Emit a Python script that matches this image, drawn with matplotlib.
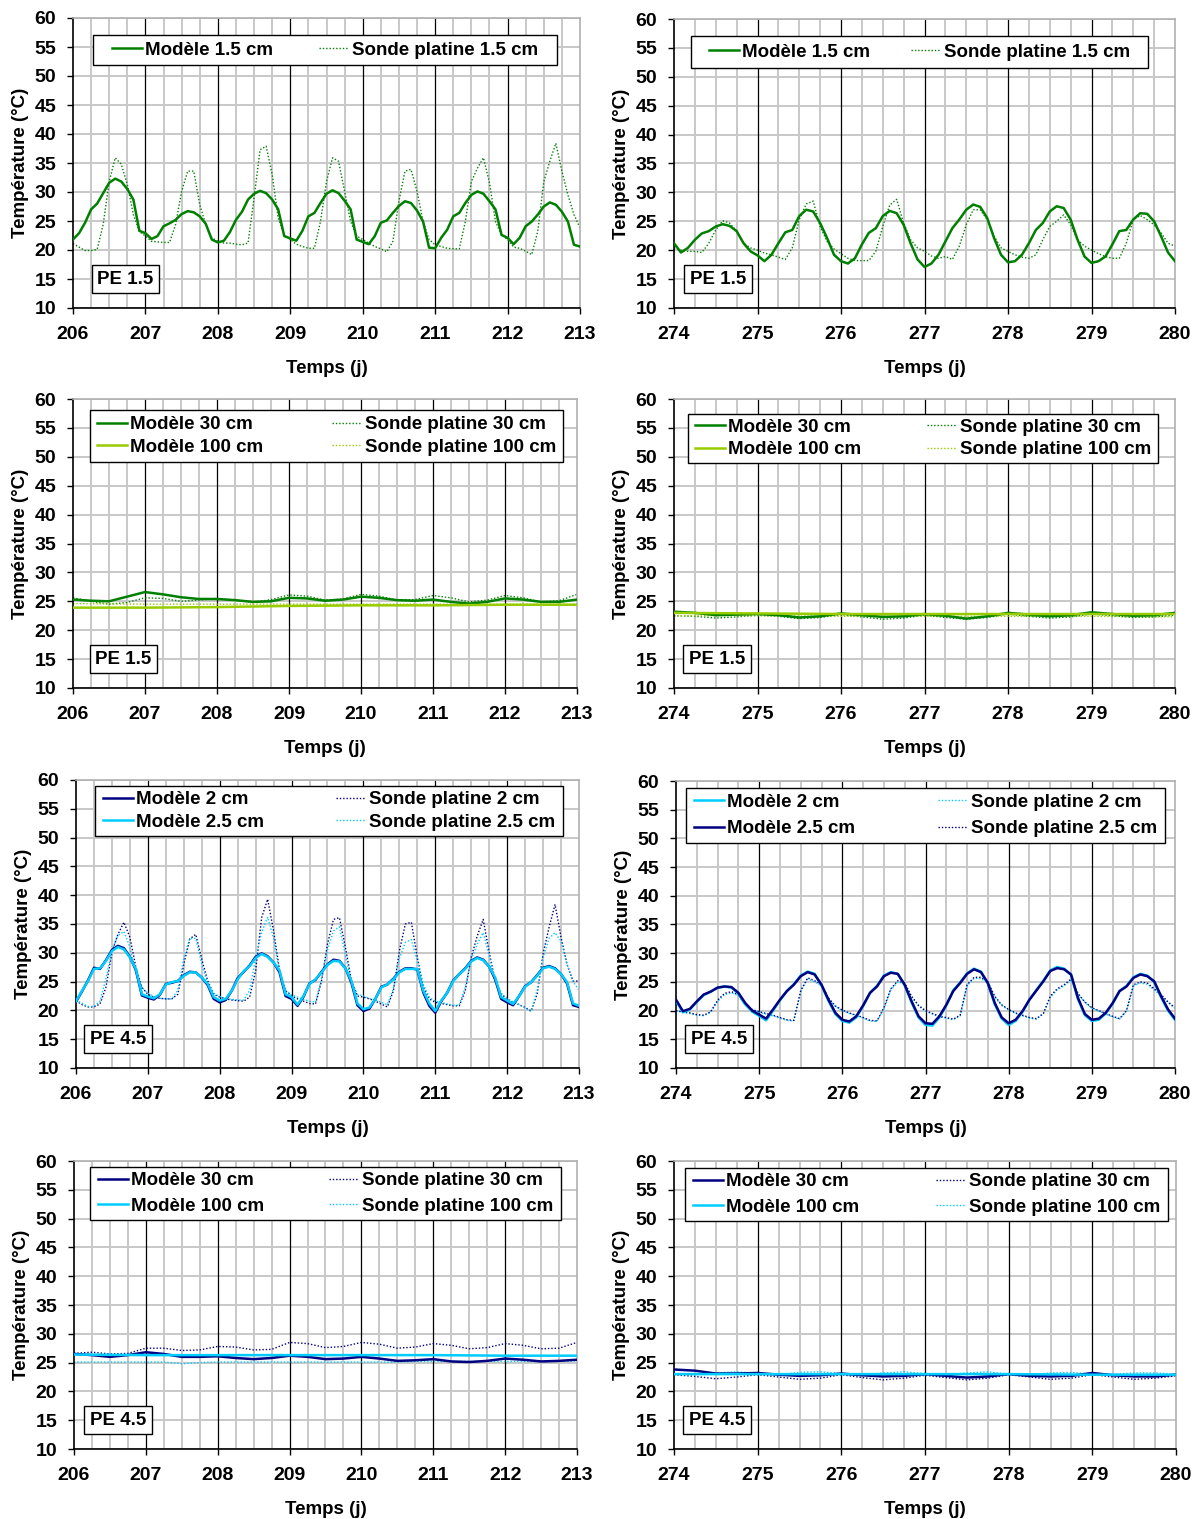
import numpy as np
import matplotlib
matplotlib.use('Agg')
import matplotlib.pyplot as plt
from matplotlib.patches import Rectangle

plt.rcParams['font.family'] = ['Liberation Sans', 'DejaVu Sans']
plt.rcParams['font.weight'] = 'bold'

# ---------------- data ----------------
# time grids (sampling every 2 h for the oscillating series, 6 h / 1 day for the flat ones)
t_206_2h = 206 + np.arange(85) / 12
t_274_2h = 274 + np.arange(73) / 12
t_206_6h = 206 + np.arange(29) / 4
t_274_6h = 274 + np.arange(25) / 4
t_206_1d = np.arange(206, 214)
t_274_1d = np.arange(274, 281)

# PE 1.5, 1.5 cm, days 206-213
mod15_a = [21.8, 22.9, 24.7, 27.0, 28.0, 29.8, 31.6, 32.3, 31.8, 30.5, 28.7, 23.3,
           22.9, 21.9, 22.4, 24.1, 24.6, 25.2, 26.2, 26.7, 26.5, 25.8, 24.5, 21.8,
           21.3, 21.6, 23.1, 25.2, 26.6, 28.7, 29.7, 30.2, 29.8, 28.7, 27.0, 22.4,
           22.0, 21.6, 23.3, 25.8, 26.4, 28.1, 29.7, 30.3, 29.8, 28.5, 27.0, 21.8,
           21.4, 21.0, 22.4, 24.7, 25.1, 26.4, 27.6, 28.4, 28.1, 26.8, 24.9, 20.4,
           20.3, 22.1, 23.5, 25.8, 26.4, 28.1, 29.5, 30.1, 29.7, 28.4, 27.0, 22.6,
           22.1, 21.0, 22.1, 24.1, 24.9, 26.1, 27.5, 28.2, 27.8, 26.6, 24.9, 20.9,
           20.6]
son15_a = [21.1, 20.5, 19.9, 19.9, 20.1, 24.4, 31.8, 35.9, 34.8, 31.3, 26.1, 23.2,
           22.4, 21.5, 21.4, 21.3, 21.3, 24.4, 30.1, 33.6, 33.6, 27.8, 24.4, 22.1,
           21.5, 21.2, 21.2, 21.0, 20.9, 21.2, 29.0, 37.3, 37.9, 33.0, 25.5, 22.6,
           21.8, 21.0, 20.6, 20.3, 20.3, 24.9, 31.8, 35.9, 35.3, 30.1, 24.9, 22.4,
           21.8, 21.2, 20.6, 20.2, 19.7, 21.5, 28.4, 33.6, 33.9, 30.1, 24.9, 21.8,
           20.9, 20.6, 20.3, 20.2, 20.2, 24.9, 31.8, 34.1, 35.9, 31.6, 24.9, 22.6,
           21.8, 20.5, 20.3, 19.8, 19.2, 23.2, 31.8, 35.3, 38.4, 33.6, 29.5, 26.1,
           23.8]

# PE 1.5, 1.5 cm, days 274-280
mod15_b = [21.2, 19.6, 20.4, 21.8, 22.9, 23.3, 24.1, 24.5, 24.2, 23.3, 21.2, 19.8,
           19.1, 18.1, 19.2, 21.2, 23.1, 23.5, 25.9, 27.0, 26.7, 24.7, 22.1, 19.2,
           18.1, 17.7, 18.6, 21.0, 23.0, 23.8, 25.9, 26.8, 26.4, 24.4, 21.2, 18.4,
           17.1, 17.7, 19.2, 21.5, 23.8, 25.3, 27.0, 27.9, 27.5, 25.6, 22.1, 19.2,
           17.9, 18.1, 19.2, 21.2, 23.5, 24.7, 26.7, 27.6, 27.3, 25.3, 21.8, 18.9,
           17.8, 18.1, 18.9, 21.0, 23.3, 23.5, 25.3, 26.4, 26.3, 25.0, 22.4, 19.6,
           18.1]
son15_b = [20.4, 20.0, 19.8, 19.8, 19.6, 21.2, 23.5, 25.1, 24.7, 23.3, 21.2, 20.4,
           20.0, 19.5, 19.2, 18.8, 18.4, 20.4, 25.3, 28.0, 28.5, 24.1, 21.5, 20.2,
           19.4, 18.6, 18.2, 18.2, 18.2, 19.8, 24.1, 27.8, 28.8, 24.7, 21.8, 20.4,
           19.8, 19.0, 18.6, 18.9, 18.4, 20.7, 24.4, 27.0, 27.0, 25.3, 22.4, 20.4,
           19.8, 19.2, 18.8, 18.6, 19.2, 21.8, 24.1, 25.0, 26.1, 24.4, 21.8, 20.7,
           20.0, 19.4, 18.9, 18.6, 18.6, 21.2, 25.3, 26.0, 25.3, 24.4, 23.0, 21.2,
           20.7]

# PE 1.5, 30 cm and 100 cm
mod30_c = [25.3, 25.1, 25.0, 25.8, 26.6, 26.2, 25.7, 25.4, 25.4, 25.2, 24.9, 25.0, 25.6, 25.5,
           25.1, 25.3, 25.8, 25.6, 25.2, 25.1, 25.3, 24.9, 24.6, 24.9, 25.5, 25.3, 24.9, 24.9, 25.3]
son30_c = [25.6, 25.0, 24.5, 24.8, 25.6, 25.5, 25.0, 25.2, 25.5, 25.2, 24.8, 25.3, 26.1, 25.9,
           25.2, 25.4, 26.2, 25.9, 25.2, 25.3, 26.0, 25.6, 24.9, 25.2, 26.0, 25.6, 24.9, 25.1, 26.2]
mod100_c = [23.9, 23.9, 24.0, 24.2, 24.3, 24.3, 24.4, 24.4]
son100_c = [24.6, 24.5, 24.5, 24.5, 24.5, 24.5, 24.5, 24.5]

mod30_d = [23.2, 23.0, 22.6, 22.7, 22.8, 22.6, 22.2, 22.4, 22.9, 22.6, 22.3, 22.4, 22.8,
           22.5, 22.0, 22.4, 23.0, 22.7, 22.4, 22.6, 23.1, 22.8, 22.5, 22.6, 23.0]
son30_d = [22.5, 22.4, 22.1, 22.3, 22.6, 22.4, 22.0, 22.2, 22.7, 22.3, 21.9, 22.1, 22.6,
           22.2, 21.9, 22.2, 22.8, 22.4, 22.1, 22.3, 22.8, 22.5, 22.2, 22.3, 22.6]
mod100_d = [23.0, 22.9, 22.8, 22.8, 22.8, 22.8, 22.8]
son100_d = [22.5, 22.5, 22.4, 22.4, 22.4, 22.4, 22.3]

# PE 4.5, 2 cm and 2.5 cm, days 206-213
mod2_e = [21.5, 23.3, 25.2, 27.4, 27.2, 28.7, 30.5, 31.2, 30.8, 29.3, 27.0, 22.6,
          22.2, 21.9, 22.7, 24.6, 24.8, 25.1, 26.1, 26.7, 26.6, 25.7, 24.4, 22.0,
          21.4, 21.8, 23.4, 25.6, 26.7, 27.8, 29.3, 29.9, 29.4, 28.3, 26.6, 22.5,
          22.0, 20.8, 22.4, 24.7, 25.3, 26.7, 28.0, 28.8, 28.6, 27.3, 24.8, 20.9,
          19.9, 20.3, 22.0, 24.1, 24.5, 25.5, 26.7, 27.3, 27.3, 27.1, 23.1, 20.8,
          19.6, 21.6, 23.1, 25.2, 26.3, 27.3, 28.6, 29.2, 28.8, 27.6, 25.4, 22.0,
          21.4, 20.9, 22.5, 24.2, 24.9, 26.1, 27.4, 27.7, 27.3, 26.3, 24.7, 20.9,
          20.6]
mod25_e = [21.6, 23.4, 25.1, 27.2, 27.3, 28.6, 30.3, 31.0, 30.6, 29.2, 27.2, 22.8,
           22.4, 22.1, 22.8, 24.5, 24.9, 25.1, 26.0, 26.6, 26.6, 25.7, 24.6, 22.3,
           21.7, 22.0, 23.4, 25.4, 26.8, 27.7, 29.1, 29.8, 29.3, 28.3, 26.9, 22.8,
           22.3, 21.0, 22.5, 24.6, 25.4, 26.6, 27.9, 28.6, 28.5, 27.3, 25.1, 21.2,
           20.2, 20.5, 22.0, 24.0, 24.5, 25.4, 26.6, 27.2, 27.2, 27.2, 23.4, 21.2,
           19.9, 21.7, 23.1, 25.1, 26.3, 27.2, 28.5, 29.1, 28.7, 27.6, 25.7, 22.3,
           21.7, 21.1, 22.5, 24.1, 24.9, 26.0, 27.3, 27.6, 27.2, 26.3, 24.9, 21.2,
           20.8]
son2_e = [21.7, 21.0, 20.6, 20.6, 21.1, 24.0, 30.1, 33.2, 35.3, 32.7, 27.5, 24.0,
          22.8, 22.3, 22.1, 22.0, 22.0, 22.8, 28.0, 32.4, 33.2, 28.9, 25.1, 22.8,
          22.3, 22.0, 21.8, 21.7, 21.6, 22.3, 26.9, 36.1, 39.3, 33.8, 26.9, 23.4,
          22.5, 22.0, 21.6, 21.2, 21.1, 25.1, 31.5, 35.8, 36.1, 30.9, 25.1, 22.5,
          22.3, 22.0, 21.6, 21.1, 20.6, 23.4, 30.3, 35.0, 35.3, 29.2, 24.0, 22.0,
          21.4, 21.2, 21.0, 20.8, 20.8, 23.4, 29.2, 32.9, 35.8, 30.1, 25.1, 22.8,
          22.0, 21.4, 21.0, 20.5, 19.9, 22.8, 29.8, 34.4, 38.4, 32.7, 28.0, 25.1,
          25.1]
son25_e = [21.8, 21.2, 20.7, 20.7, 21.6, 25.5, 30.5, 33.0, 33.7, 31.0, 26.5, 24.0,
           23.0, 22.4, 22.1, 22.0, 22.0, 23.5, 29.0, 32.5, 32.5, 28.0, 24.5, 23.0,
           22.4, 22.1, 21.9, 21.8, 21.8, 23.5, 29.0, 33.5, 36.2, 32.5, 26.5, 23.5,
           22.7, 22.3, 21.9, 21.6, 21.4, 25.5, 30.5, 33.8, 34.5, 29.5, 25.0, 22.8,
           22.5, 22.1, 21.8, 21.4, 21.0, 23.8, 29.0, 31.8, 32.3, 28.5, 24.5, 22.3,
           21.6, 21.4, 21.1, 20.9, 20.9, 24.0, 28.8, 31.5, 33.5, 29.5, 25.0, 23.0,
           22.0, 21.5, 21.0, 20.4, 19.8, 23.5, 29.0, 32.5, 33.5, 32.0, 28.0, 25.0,
           23.5]

# PE 4.5, 2 cm and 2.5 cm, days 274-280
mod2_f = [21.7, 19.7, 20.2, 21.5, 22.7, 23.3, 24.0, 24.2, 24.0, 23.0, 21.1, 19.8,
          19.1, 18.3, 20.0, 21.8, 23.4, 24.6, 26.1, 26.8, 26.4, 24.4, 21.7, 19.4,
          18.2, 17.9, 18.8, 20.8, 23.1, 24.3, 26.1, 26.7, 26.4, 24.4, 21.4, 18.8,
          17.5, 17.4, 18.8, 20.9, 23.5, 24.9, 26.5, 27.3, 26.8, 24.7, 21.1, 18.6,
          17.5, 18.2, 19.8, 21.9, 23.6, 25.2, 27.0, 27.6, 27.3, 26.2, 22.0, 19.2,
          18.2, 18.4, 19.5, 21.2, 23.4, 24.3, 25.8, 26.4, 26.1, 25.0, 22.3, 20.0,
          18.4]
mod25_f = [21.9, 19.9, 20.3, 21.6, 22.8, 23.3, 24.0, 24.2, 24.1, 23.1, 21.3, 20.0,
           19.3, 18.6, 20.2, 21.9, 23.4, 24.5, 26.0, 26.7, 26.3, 24.5, 21.9, 19.6,
           18.4, 18.1, 19.0, 20.9, 23.1, 24.2, 26.0, 26.6, 26.4, 24.5, 21.6, 19.0,
           17.8, 17.7, 19.0, 21.0, 23.4, 24.8, 26.4, 27.2, 26.7, 24.8, 21.3, 18.8,
           17.8, 18.4, 19.9, 21.9, 23.5, 25.1, 26.9, 27.4, 27.2, 26.3, 22.2, 19.4,
           18.4, 18.6, 19.6, 21.3, 23.4, 24.2, 25.7, 26.3, 26.0, 25.1, 22.5, 20.2,
           18.6]
son2_f = [19.9, 19.7, 19.5, 19.2, 19.1, 19.7, 21.6, 22.8, 23.1, 22.6, 20.9, 20.1,
          19.7, 19.4, 19.1, 18.7, 18.3, 18.2, 23.3, 25.5, 25.0, 24.3, 22.0, 20.7,
          20.0, 19.5, 19.1, 18.7, 18.2, 18.1, 20.3, 23.6, 25.0, 24.6, 22.3, 20.8,
          19.9, 19.4, 18.9, 18.7, 18.4, 19.1, 24.3, 25.6, 25.6, 24.8, 22.3, 20.9,
          20.1, 19.5, 19.1, 18.7, 18.5, 19.4, 22.3, 23.6, 24.3, 25.3, 22.8, 21.4,
          20.4, 19.9, 19.4, 18.9, 18.5, 19.9, 24.3, 24.8, 24.6, 23.6, 22.6, 21.4,
          20.4]
son25_f = [20.0, 19.8, 19.6, 19.3, 19.2, 19.8, 21.8, 23.0, 23.3, 22.8, 21.0, 20.2,
           19.8, 19.5, 19.2, 18.8, 18.4, 18.3, 23.5, 25.7, 25.2, 24.5, 22.2, 20.8,
           20.1, 19.6, 19.2, 18.8, 18.3, 18.2, 20.5, 23.8, 25.2, 24.8, 22.5, 20.9,
           20.0, 19.5, 19.0, 18.8, 18.5, 19.2, 24.5, 25.8, 25.8, 25.0, 22.5, 21.0,
           20.2, 19.6, 19.2, 18.8, 18.6, 19.5, 22.5, 23.8, 24.5, 25.5, 23.0, 21.5,
           20.5, 20.0, 19.5, 19.0, 18.6, 20.0, 24.5, 25.0, 24.8, 23.8, 22.8, 21.5,
           20.5]

# PE 4.5, 30 cm and 100 cm
mod30_g = [26.5, 26.3, 26.0, 26.3, 26.8, 26.5, 26.0, 26.0, 26.1, 25.8, 25.6, 25.8, 26.2, 26.0,
           25.6, 25.7, 26.0, 25.7, 25.3, 25.4, 25.6, 25.2, 25.1, 25.3, 25.7, 25.5, 25.2, 25.3, 25.5]
son30_g = [26.6, 26.8, 26.5, 26.6, 27.5, 27.5, 27.1, 27.2, 27.8, 27.7, 27.2, 27.3, 28.5, 28.3,
           27.6, 27.8, 28.5, 28.2, 27.5, 27.7, 28.3, 28.0, 27.4, 27.6, 28.3, 28.0, 27.4, 27.5, 28.5]
mod100_g = [26.4, 26.3, 26.3, 26.3, 26.3, 26.3, 26.2, 26.2]
son100_g = [25.1, 25.1, 25.1, 25.1, 25.1, 25.1, 24.8, 25.0, 25.1, 25.1, 25.1, 25.1, 25.1, 25.1,
            25.1, 25.1, 25.1, 25.1, 25.1, 25.2, 25.2, 25.2, 25.2, 25.2, 25.2, 25.2, 25.2, 25.2, 25.3]

mod30_h = [23.8, 23.6, 23.1, 23.1, 23.2, 22.9, 22.7, 22.8, 23.1, 22.8, 22.6, 22.7, 23.0,
           22.7, 22.4, 22.6, 23.0, 22.7, 22.6, 22.7, 23.2, 22.8, 22.6, 22.6, 22.9]
son30_h = [22.9, 22.6, 22.2, 22.5, 22.9, 22.5, 22.1, 22.3, 22.9, 22.4, 22.0, 22.3, 22.8,
           22.4, 22.0, 22.3, 22.9, 22.5, 22.1, 22.3, 22.9, 22.5, 22.1, 22.3, 22.7]
mod100_h = [23.0, 23.0, 23.0, 23.0, 23.0, 22.9, 22.9]
son100_h = [23.1, 23.0, 23.2, 23.4, 23.1, 22.9, 23.3, 23.4, 23.1, 22.9, 23.2, 23.4, 23.1,
            22.9, 23.2, 23.4, 23.0, 22.9, 23.2, 23.3, 23.0, 23.0, 23.2, 23.2, 23.0]

# ---------------- style ----------------
GREEN = '#008000'
LIME = '#99CC00'
NAVY = '#000080'
CYAN = '#00CCFF'
DOT = (0, (1, 1.4))
W, H = 1195, 1519


def make_axes(fig, x0, x1, y0, y1):
    # pixel box -> figure fraction
    return fig.add_axes([x0 / W, 1 - y1 / H, (x1 - x0) / W, (y1 - y0) / H])


def style_axes(ax, start, ndays):
    ax.set_xlim(start, start + ndays)
    ax.set_ylim(10, 60)
    ax.set_xticks(np.arange(start, start + ndays + 1))
    ax.set_xticks(np.arange(start, start + ndays, 0.25), minor=True)
    ax.set_yticks(np.arange(10, 61, 5))
    ax.set_axisbelow(True)
    ax.grid(which='minor', axis='x', color='#C8C8C8', lw=1.4)
    ax.grid(which='major', axis='y', color='#C8C8C8', lw=1.4)
    ax.vlines(np.arange(start + 1, start + ndays), 10, 60, color='black', lw=0.9, zorder=1)
    for side in ['left', 'bottom']:
        ax.spines[side].set_color('black')
        ax.spines[side].set_linewidth(1.2)
    for side in ['top', 'right']:
        ax.spines[side].set_color('#B0B0B0')
        ax.spines[side].set_linewidth(1.2)
    ax.tick_params(which='minor', length=0)
    ax.tick_params(axis='x', which='major', length=4, width=1, pad=9, labelsize=14)
    ax.tick_params(axis='y', which='major', length=4, width=1, pad=8, labelsize=14)
    for lbl in ax.get_xticklabels() + ax.get_yticklabels():
        lbl.set_fontweight('bold')
    ax.set_xlabel('Temps (j)', fontsize=13.5, fontweight='bold', labelpad=12)
    ax.set_ylabel('Température (°C)', fontsize=13.5, fontweight='bold', labelpad=4)


def add_legend(ax, x0, x1, y0, y1, padx, spacing):
    # white box drawn by hand, legend entries spread inside it
    ax.add_patch(Rectangle((x0, y0), x1 - x0, y1 - y0, transform=ax.transAxes,
                           fc='white', ec='black', lw=1.0, zorder=6, clip_on=False))
    leg = ax.legend(loc='center', bbox_to_anchor=(x0 + padx, y0, x1 - x0 - 2 * padx, y1 - y0),
                    mode='expand', ncol=2, fontsize=13.5, frameon=False,
                    borderpad=0, labelspacing=spacing, handlelength=1.6,
                    handletextpad=0.15, borderaxespad=0)
    leg.set_zorder(7)
    for txt in leg.get_texts():
        txt.set_fontweight('bold')


def add_tag(ax, text, x):
    ax.text(x, 0.10, text, transform=ax.transAxes, ha='left', va='center',
            fontsize=13.5, fontweight='bold', zorder=5,
            bbox=dict(boxstyle='square,pad=0.3', fc='white', ec='black', lw=1.0))


fig = plt.figure(figsize=(W / 100, H / 100), dpi=100)

# row 1
ax = make_axes(fig, 73, 580, 18, 308)
style_axes(ax, 206, 7)
ax.plot(t_206_2h, mod15_a, color=GREEN, lw=1.8, label='Modèle 1.5 cm', zorder=3)
ax.plot(t_206_2h, son15_a, color=GREEN, lw=1.0, ls=DOT, label='Sonde platine 1.5 cm', zorder=2)
add_legend(ax, 0.039, 0.955, 0.838, 0.941, 0.038, 0.4)
add_tag(ax, 'PE 1.5', 0.048)

ax = make_axes(fig, 674, 1175, 19, 308)
style_axes(ax, 274, 6)
ax.plot(t_274_2h, mod15_b, color=GREEN, lw=1.8, label='Modèle 1.5 cm', zorder=3)
ax.plot(t_274_2h, son15_b, color=GREEN, lw=1.0, ls=DOT, label='Sonde platine 1.5 cm', zorder=2)
add_legend(ax, 0.034, 0.946, 0.83, 0.941, 0.036, 0.4)
add_tag(ax, 'PE 1.5', 0.032)

# row 2
ax = make_axes(fig, 73, 577, 399, 688)
style_axes(ax, 206, 7)
ax.plot(t_206_6h, mod30_c, color=GREEN, lw=1.8, label='Modèle 30 cm', zorder=3)
ax.plot(t_206_1d, mod100_c, color=LIME, lw=1.8, label='Modèle 100 cm', zorder=3)
ax.plot(t_206_6h, son30_c, color=GREEN, lw=1.0, ls=DOT, label='Sonde platine 30 cm', zorder=2)
ax.plot(t_206_1d, son100_c, color=LIME, lw=1.0, ls=DOT, label='Sonde platine 100 cm', zorder=2)
add_legend(ax, 0.034, 0.972, 0.782, 0.962, 0.014, 0.3)
add_tag(ax, 'PE 1.5', 0.044)

ax = make_axes(fig, 674, 1175, 399, 688)
style_axes(ax, 274, 6)
ax.plot(t_274_6h, mod30_d, color=GREEN, lw=1.8, label='Modèle 30 cm', zorder=3)
ax.plot(t_274_1d, mod100_d, color=LIME, lw=1.8, label='Modèle 100 cm', zorder=3)
ax.plot(t_274_6h, son30_d, color=GREEN, lw=1.0, ls=DOT, label='Sonde platine 30 cm', zorder=2)
ax.plot(t_274_1d, son100_d, color=LIME, lw=1.0, ls=DOT, label='Sonde platine 100 cm', zorder=2)
add_legend(ax, 0.028, 0.966, 0.779, 0.948, 0.014, 0.3)
add_tag(ax, 'PE 1.5', 0.03)

# row 3
ax = make_axes(fig, 76, 579, 780, 1068)
style_axes(ax, 206, 7)
ax.plot(t_206_2h, mod2_e, color=NAVY, lw=1.8, label='Modèle 2 cm', zorder=3)
ax.plot(t_206_2h, mod25_e, color=CYAN, lw=1.8, label='Modèle 2.5 cm', zorder=4)
ax.plot(t_206_2h, son2_e, color=NAVY, lw=1.0, ls=DOT, label='Sonde platine 2 cm', zorder=2)
ax.plot(t_206_2h, son25_e, color=CYAN, lw=1.0, ls=DOT, label='Sonde platine 2.5 cm', zorder=2)
add_legend(ax, 0.038, 0.968, 0.806, 0.979, 0.016, 0.3)
add_tag(ax, 'PE 4.5', 0.028)

ax = make_axes(fig, 676, 1175, 781, 1068)
style_axes(ax, 274, 6)
ax.plot(t_274_2h, mod2_f, color=CYAN, lw=1.8, label='Modèle 2 cm', zorder=3)
ax.plot(t_274_2h, mod25_f, color=NAVY, lw=1.8, label='Modèle 2.5 cm', zorder=4)
ax.plot(t_274_2h, son2_f, color=CYAN, lw=1.0, ls=DOT, label='Sonde platine 2 cm', zorder=2)
ax.plot(t_274_2h, son25_f, color=NAVY, lw=1.0, ls=DOT, label='Sonde platine 2.5 cm', zorder=2)
add_legend(ax, 0.02, 0.98, 0.785, 0.976, 0.016, 0.5)
add_tag(ax, 'PE 4.5', 0.03)

# row 4
ax = make_axes(fig, 74, 577, 1161, 1449)
style_axes(ax, 206, 7)
ax.plot(t_206_6h, mod30_g, color=NAVY, lw=1.8, label='Modèle 30 cm', zorder=3)
ax.plot(t_206_1d, mod100_g, color=CYAN, lw=1.8, label='Modèle 100 cm', zorder=3)
ax.plot(t_206_6h, son30_g, color=NAVY, lw=1.0, ls=DOT, label='Sonde platine 30 cm', zorder=2)
ax.plot(t_206_6h, son100_g, color=CYAN, lw=1.0, ls=DOT, label='Sonde platine 100 cm', zorder=2)
add_legend(ax, 0.032, 0.968, 0.796, 0.979, 0.016, 0.45)
add_tag(ax, 'PE 4.5', 0.032)

ax = make_axes(fig, 674, 1176, 1161, 1449)
style_axes(ax, 274, 6)
ax.plot(t_274_6h, mod30_h, color=NAVY, lw=1.8, label='Modèle 30 cm', zorder=3)
ax.plot(t_274_1d, mod100_h, color=CYAN, lw=1.8, label='Modèle 100 cm', zorder=4)
ax.plot(t_274_6h, son30_h, color=NAVY, lw=1.0, ls=DOT, label='Sonde platine 30 cm', zorder=2)
ax.plot(t_274_6h, son100_h, color=CYAN, lw=1.0, ls=DOT, label='Sonde platine 100 cm', zorder=2)
add_legend(ax, 0.022, 0.984, 0.792, 0.976, 0.016, 0.45)
add_tag(ax, 'PE 4.5', 0.03)

fig.savefig('out.png', dpi=100)
